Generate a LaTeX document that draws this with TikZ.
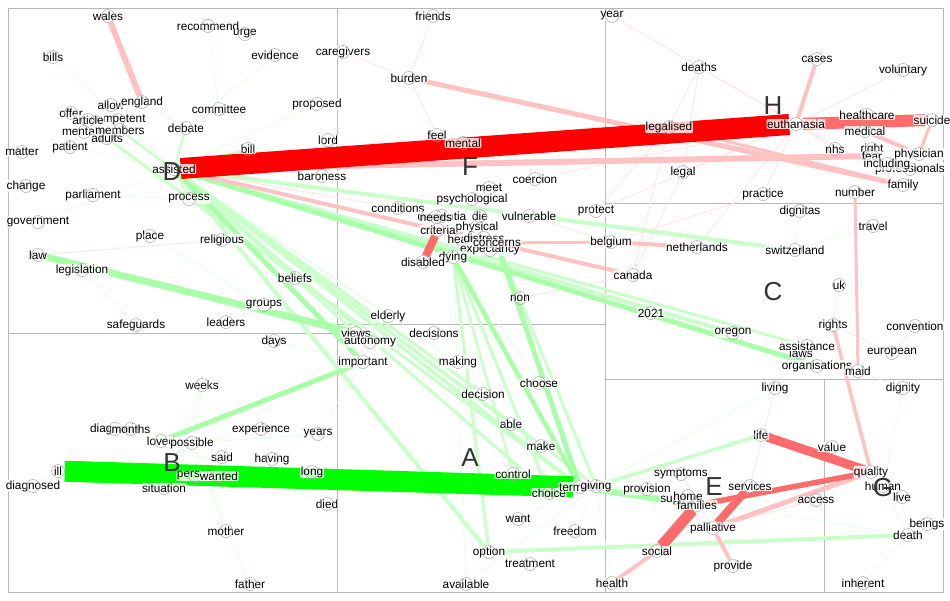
\documentclass[tikz,border=0pt]{standalone}
\usepackage{fontspec}
\setmainfont{Liberation Sans}
\usetikzlibrary{backgrounds}
\begin{document}
\begin{tikzpicture}[x=1pt,y=-1pt,
  word/.style={font=\fontsize{11.8}{12}\selectfont,fill=white,fill opacity=.8,text opacity=1,inner sep=.6pt,rounded corners=1pt},
  dot/.style={circle,draw=black!35,line width=.5pt,minimum size=13pt,inner sep=0pt},
  region/.style={font=\fontsize{26}{26}\selectfont,text=black!80,inner sep=0pt},
  frame/.style={draw=black!28,line width=.8pt},
  rA/.style={draw=red}, rB/.style={draw=red!58}, rC/.style={draw=red!24}, rD/.style={draw=red!11,line width=.8pt},
  gA/.style={draw=green}, gB/.style={draw=green!34}, gC/.style={draw=green!21}, gD/.style={draw=green!11,line width=.8pt}
]
\useasboundingbox (0,0) rectangle (950,600);
\foreach \t/\x/\y in {wales/108/16, bills/53/57, recommend/208/26, urge/245/34, evidence/275/55, caregivers/343/52,
  friends/433/16, year/612/16, burden/409/78, allow/111/105, england/142/102, offer/71/113, competent/118/120,
  article/88/120, mentally/84/132, adults/107/138, members/120/130, committee/219/109, debate/186/128,
  proposed/317/104, matter/22/152, patient/70/147, lord/328/140, bill/248/149, assisted/174/169, baroness/322/176,
  change/26/186, parliament/93/195, process/189/199, government/38/222, place/150/236, religious/222/240,
  law/38/255, legislation/82/270, beliefs/295/278, groups/264/305, safeguards/136/325, leaders/226/322,
  feel/437/135, mental/463/143, coercion/535/179, meet/489/188, psychological/472/199, conditions/398/208,
  physical/477/227, dementia/442/216, needs/436/217, die/480/216, vulnerable/529/216, criteria/438/230,
  heart/461/239, distress/484/238, expectancy/490/250, concerns/497/243, dying/453/257, disabled/423/262,
  protect/596/211, belgium/611/242, non/520/298, elderly/388/316, decisions/434/333, views/356/333,
  autonomy/370/342, important/363/362,
  deaths/699/67, cases/817/59, voluntary/903/70, legalised/669/127, euthanasia/796/124, healthcare/867/115,
  suicide/932/120, medical/865/131, right/872/149, fear/872/156, nhs/835/149, physician/919/154,
  professionals/910/169, including/887/164, family/903/185, legal/683/172, practice/763/194, number/855/192,
  dignitas/800/211, travel/873/226, netherlands/697/247, switzerland/795/250, canada/633/275, uk/839/285,
  2021/651/313, oregon/733/333, rights/833/325, convention/915/326, laws/801/353, assistance/807/346,
  european/892/353, organisations/817/366, maid/858/371, living/775/388, dignity/903/388,
  days/274/341, weeks/202/385, diagnosis/115/429, months/131/429, loved/161/441, possible/192/443,
  experience/261/429, years/318/434, said/222/457, having/272/459, ill/58/471, diagnosed/33/486,
  person/195/476, wanted/219/476, situation/164/488, long/312/472, died/327/504, mother/226/531, father/250/584,
  making/458/362, choose/539/383, decision/483/394, able/511/424, make/541/446, control/513/474,
  choice/549/493, terminal/580/487, giving/596/486, want/518/519, freedom/575/531, option/489/552,
  treatment/530/564, available/466/584,
  life/761/435, value/832/447, quality/871/472, human/883/486, live/902/497, symptoms/681/474,
  provision/647/489, services/750/486, support/680/500, home/688/496, families/697/505, access/816/500,
  palliative/713/528, social/657/551, provide/733/566, health/612/583, beings/927/524, death/908/535,
  inherent/863/583}{
  \node[word] (\t-w) at (\x,\y) {\t};
  \node[dot] (\t) at (\x,\y) {};
}
\node[region] (regD) at (172,172) {D};
\node[region] (regF) at (470,167) {F};
\node[region] (regH) at (773,106) {H};
\node[region] (regC) at (773,292) {C};
\node[region] (regB) at (172,463) {B};
\node[region] (regA) at (470,458) {A};
\node[region] (regE) at (714,487) {E};
\node[region] (regG) at (883,488) {G};
\begin{pgfonlayer}{background}
\draw[frame] (8,8) rectangle (943,592);
\draw[frame] (337,8) -- (337,592) (8,333) -- (337,333) (337,324) -- (605,324) (605,8) -- (605,592)
  (605,203) -- (943,203) (605,379) -- (943,379) (824,379) -- (824,592);
\foreach \a/\b in {friends/burden, caregivers/burden, burden/feel, feel/mental, deaths/legalised, deaths/legal,
  year/euthanasia, england/debate, voluntary/euthanasia, legal/euthanasia, practice/euthanasia, non/canada,
  protect/euthanasia, coercion/euthanasia, vulnerable/belgium, netherlands/euthanasia, canada/legalised,
  living/services, symptoms/palliative, provision/palliative, home/families, value/quality, access/palliative,
  law/religious, rights/european, convention/european, dignity/maid, practice/belgium, legal/canada,
  nhs/euthanasia, deaths/family, protect/legalised, conditions/assisted}
  \draw[rD] (\a) -- (\b);
\foreach \a/\b in {possible/experience, possible/years, possible/weeks, loved/died, situation/having,
  said/wanted, days/important, giving/death, provision/giving, choose/dying, making/assisted, available/dying,
  treatment/option, freedom/giving, want/terminal, bills/assisted, patient/assisted, government/assisted,
  religious/assisted, parliament/process, leaders/groups, safeguards/legislation, beliefs/groups,
  elderly/assisted, decisions/views, dignitas/switzerland, uk/rights, dignity/human, beings/death,
  inherent/death, human/death, live/death, committee/debate, evidence/debate, recommend/committee,
  proposed/assisted, mother/possible, father/possible, months/possible, diagnosed/ill, weeks/situation,
  symptoms/giving, available/giving, health/giving, long/terminal, years/important, living/giving,
  travel/switzerland, place/groups, meet/dying, psychological/dying, needs/dying}
  \draw[gD] (\a) -- (\b);
\foreach \a/\b/\w in {assisted/terminal/3.5, assisted/make/3, assisted/able/3, assisted/choice/3,
  assisted/switzerland/4, assisted/assistance/3, dying/choice/3, option/death/4, life/giving/3.5,
  assisted/option/4, dying/option/3, adults/terminal/3, members/giving/2.5, assisted/views/3,
  assisted/decision/3, dying/control/2.5, concerns/giving/3, assisted/bill/2.5, debate/assisted/2,
  process/assisted/2, assisted/vulnerable/2.5, assisted/oregon/4}
  \draw[gC,line width=\w pt] (\a) -- (\b);
\foreach \a/\b/\w in {law/views/7, loved/important/5, assisted/organisations/5, assisted/important/5,
  terminal/families/6, concerns/terminal/5, dying/terminal/4.5}
  \draw[gB,line width=\w pt] (\a) -- (\b);
\draw[gA,line width=21pt] (ill) -- (terminal);
\foreach \a/\b/\w in {wales/england/6, burden/family/5, assisted/fear/6, assisted/canada/4, euthanasia/cases/4,
  suicide/physician/3, medical/physician/4, number/maid/3, rights/quality/3.5, palliative/provide/4,
  social/health/4, palliative/quality/5, belgium/netherlands/4, concerns/belgium/3, legalised/family/3}
  \draw[rC,line width=\w pt] (\a) -- (\b);
\foreach \a/\b/\w in {euthanasia/suicide/12, life/quality/9, social/families/11, palliative/services/8,
  families/quality/5.5, criteria/disabled/8}
  \draw[rB,line width=\w pt] (\a) -- (\b);
\draw[rA,line width=21pt] (assisted) -- (euthanasia);
\end{pgfonlayer}
\end{tikzpicture}
\end{document}
